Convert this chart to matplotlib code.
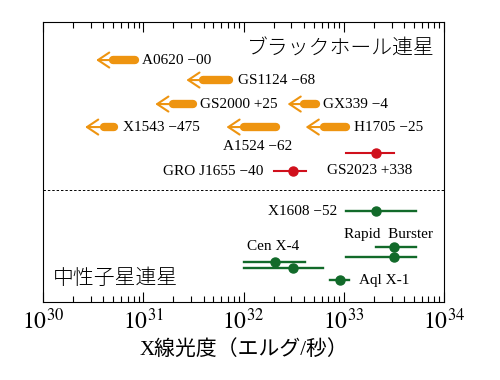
import numpy as np
import matplotlib
matplotlib.use('Agg')
import matplotlib.pyplot as plt
from matplotlib.ticker import LogLocator, NullFormatter

plt.rcParams['font.family'] = ['Liberation Serif', 'Noto Sans CJK JP']
plt.rcParams['mathtext.fontset'] = 'stix'

ORANGE = '#ee9410'
RED = '#d0101c'
GREEN = '#126a2a'

# black hole binaries: upper limits (log10 L), arrow tip / bar start / bar end
bh_names = ['A0620 \u221200', 'GS1124 \u221268', 'GS2000 +25', 'X1543 \u2212475',
            'A1524 \u221262', 'GX339 \u22124', 'H1705 \u221225']
bh_tip = [30.53, 31.43, 31.12, 30.42, 31.83, 32.44, 32.62]
bh_lo = [30.70, 31.60, 31.30, 30.61, 32.00, 32.60, 32.80]
bh_hi = [30.92, 31.86, 31.50, 30.71, 32.32, 32.72, 33.02]
bh_y = [12.1, 11.1, 9.9, 8.75, 8.75, 9.9, 8.75]

# black hole binaries with detections
bhd_names = ['GRO J1655 \u221240', 'GS2023 +338']
bhd_val = [32.49, 33.32]
bhd_lo = [32.30, 33.02]
bhd_hi = [32.62, 33.50]
bhd_y = [6.55, 7.45]

# neutron star binaries
ns_val = [33.32, 33.50, 33.50, 32.31, 32.49, 32.96]
ns_lo = [33.02, 33.32, 33.02, 32.00, 32.00, 32.86]
ns_hi = [33.72, 33.72, 33.72, 32.61, 32.79, 33.05]
ns_y = [4.55, 2.75, 2.25, 2.0, 1.7, 1.1]

fig = plt.figure(figsize=(5, 3.8), dpi=100)
ax = fig.add_axes([0.086, 0.205, 0.802, 0.737])

for tip, lo, hi, y in zip(bh_tip, bh_lo, bh_hi, bh_y):
    ax.annotate('', xy=(10 ** tip, y), xytext=(10 ** lo, y),
                arrowprops=dict(arrowstyle='->,head_length=0.45,head_width=0.3',
                                lw=1.5, color=ORANGE,
                                mutation_scale=18, shrinkA=0, shrinkB=0))
    ax.plot([10 ** lo, 10 ** hi], [y, y], color=ORANGE, lw=6,
            solid_capstyle='round')

for v, lo, hi, y in zip(bhd_val, bhd_lo, bhd_hi, bhd_y):
    ax.plot([10 ** lo, 10 ** hi], [y, y], color=RED, lw=1.5)
    ax.plot(10 ** v, y, 'o', color=RED, ms=6.5)

for v, lo, hi, y in zip(ns_val, ns_lo, ns_hi, ns_y):
    ax.plot([10 ** lo, 10 ** hi], [y, y], color=GREEN, lw=1.7)
    ax.plot(10 ** v, y, 'o', color=GREEN, ms=6.5)

fs = 11
# labels of black hole binaries
lab_x = [30.99, 31.95, 31.57, 30.80, 31.80, 32.79, 33.10]
lab_y = [12.1, 11.1, 9.9, 8.75, 7.8, 9.9, 8.75]
for name, lx, ly in zip(bh_names, lab_x, lab_y):
    ax.text(10 ** lx, ly, name, fontsize=fs, va='center', ha='left')
ax.text(10 ** 32.2, 6.55, bhd_names[0], fontsize=fs, va='center', ha='right')
ax.text(10 ** 33.26, 6.6, bhd_names[1], fontsize=fs, va='center', ha='center')

ax.text(10 ** 32.94, 4.55, 'X1608 \u221252', fontsize=fs, va='center', ha='right')
ax.text(10 ** 33.45, 3.4, 'Rapid  Burster', fontsize=fs, va='center', ha='center')
ax.text(10 ** 32.03, 2.8, 'Cen X-4', fontsize=fs, va='center', ha='left')
ax.text(10 ** 33.15, 1.1, 'Aql X-1', fontsize=fs, va='center', ha='left')

ax.text(0.976, 0.9, 'ブラックホール連星', transform=ax.transAxes, fontsize=15,
        ha='right', va='center', fontweight='light')
ax.text(0.025, 0.08, '中性子星連星', transform=ax.transAxes, fontsize=15,
        ha='left', va='center', fontweight='light')

ax.axhline(5.6, color='black', lw=0.7, ls=(0, (2.5, 2)))

ax.set_xscale('log')
ax.set_xlim(1e30, 1e34)
ax.set_ylim(0, 14)
ax.set_xticks([1e30, 1e31, 1e32, 1e33, 1e34])
ax.set_xticklabels([r'$10^{30}$', r'$10^{31}$', r'$10^{32}$', r'$10^{33}$', r'$10^{34}$'],
                   fontsize=17)
ax.xaxis.set_minor_locator(LogLocator(base=10, subs=np.arange(2, 10), numticks=20))
ax.xaxis.set_minor_formatter(NullFormatter())
ax.tick_params(axis='x', which='both', direction='in', top=True, bottom=True, pad=5)
ax.tick_params(axis='x', which='major', length=7, width=0.8)
ax.tick_params(axis='x', which='minor', length=4, width=0.8)
ax.set_yticks([])
for s in ax.spines.values():
    s.set_linewidth(0.8)

ax.set_xlabel('X線光度（エルグ/秒）', fontsize=15, labelpad=4)

fig.savefig('out.png', dpi=100)
